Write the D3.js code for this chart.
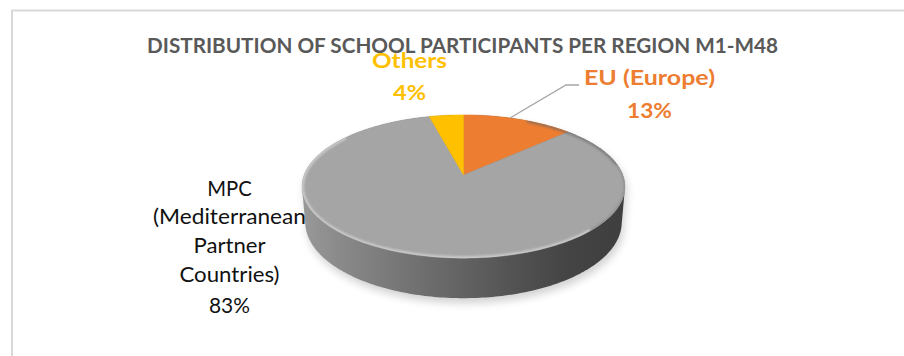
<!DOCTYPE html>
<html>
<head>
<meta charset="utf-8">
<script src="https://cdn.jsdelivr.net/npm/d3@7"></script>
<style>
  html, body { margin: 0; padding: 0; background: #ffffff; }
  svg { display: block; }
</style>
</head>
<body>
<svg id="chart" width="904" height="356"></svg>
<script>
// ---- data ----
const title = "DISTRIBUTION OF SCHOOL PARTICIPANTS PER REGION M1-M48";
const categories = ["EU (Europe)", "MPC (Mediterranean Partner Countries)", "Others"];
const values = [13, 83, 4];
const percentLabels = ["13%", "83%", "4%"];
const labelLines = [["EU (Europe)"], ["MPC", "(Mediterranean", "Partner", "Countries)"], ["Others"]];

// ---- styling ----
const color = d3.scaleOrdinal().domain(categories).range(["#ED7D31", "#A5A5A5", "#FFC000"]);
const svg = d3.select("#chart");
const W = 904, H = 356;

// frame
svg.append("rect").attr("x", 12).attr("y", 10.5).attr("width", 1000).attr("height", 1000)
  .attr("fill", "none").attr("stroke", "#d9d9d9").attr("stroke-width", 2);

// perspective projection for a tilted 3D disc
const cx = 463.5, cy = 175;
const R = 0.179, cosT = 0.899, sinT = Math.sqrt(1 - cosT * cosT), F = 890, depth = 0.045;
function proj(theta, level) {
  const x = R * Math.sin(theta), z = R * Math.cos(theta), y = level;
  const u = x, v = y * cosT + z * sinT, w = 1 + z * cosT - y * sinT;
  return [cx + F * u / w, cy - F * v / w];
}
function arcPoints(a0, a1, level, n) {
  const pts = [];
  const steps = Math.max(2, Math.ceil(Math.abs(a1 - a0) / (2 * Math.PI) * (n || 240)));
  for (let i = 0; i <= steps; i++) pts.push(proj(a0 + (a1 - a0) * i / steps, level));
  return pts;
}

const defs = svg.append("defs");
const sideGrad = defs.append("linearGradient").attr("id", "sideGrad")
  .attr("gradientUnits", "userSpaceOnUse").attr("x1", 300).attr("x2", 627).attr("y1", 0).attr("y2", 0);
[[0, "#9a9a9a"], [0.12, "#8a8a8a"], [0.4, "#6c6c6c"], [0.65, "#535353"], [0.82, "#444444"], [1, "#3e3e3e"]]
  .forEach(([o, c]) => sideGrad.append("stop").attr("offset", o).attr("stop-color", c));
defs.append("filter").attr("id", "blur4").attr("x", "-20%").attr("y", "-20%").attr("width", "140%").attr("height", "140%")
  .append("feGaussianBlur").attr("stdDeviation", 4);
defs.append("filter").attr("id", "blur1").attr("x", "-10%").attr("y", "-10%").attr("width", "120%").attr("height", "120%")
  .append("feGaussianBlur").attr("stdDeviation", 1.2);

const topAll = arcPoints(0, 2 * Math.PI, 0, 360);
const botAll = arcPoints(0, 2 * Math.PI, -depth, 360);
const hull = d3.polygonHull(topAll.concat(botAll));
const line = d3.line().curve(d3.curveLinear);

// soft shadow
svg.append("path").attr("d", line(hull.map(p => [p[0] + 2, p[1] + 5])) + "Z")
  .attr("fill", "#000").attr("opacity", 0.18).attr("filter", "url(#blur4)");

// side wall
svg.append("path").attr("d", line(hull) + "Z").attr("fill", "url(#sideGrad)");

// top face slices
const pie = d3.pie().sort(null).value(d => d.v).startAngle(0).endAngle(2 * Math.PI);
const arcs = pie(categories.map((c, i) => ({ c, v: values[i], i })));
svg.append("g").selectAll("path").data(arcs).join("path")
  .attr("d", d => line([[cx, cy]].concat(arcPoints(d.startAngle, d.endAngle, 0))) + "Z")
  .attr("fill", d => color(d.data.c))
  .attr("stroke", d => color(d.data.c)).attr("stroke-width", 0.5);

// rim highlight (bevel) on front edge
const clip = defs.append("clipPath").attr("id", "topClip");
clip.append("path").attr("d", line(topAll) + "Z");
svg.append("path").attr("d", line(arcPoints(Math.PI * 0.45, Math.PI * 1.7, 0)))
  .attr("fill", "none").attr("stroke", "#d4d4d4").attr("stroke-width", 4).attr("opacity", 0.8)
  .attr("filter", "url(#blur1)").attr("clip-path", "url(#topClip)");
svg.append("path").attr("d", line(arcPoints(Math.PI * 0.15, Math.PI * 0.75, 0)))
  .attr("fill", "none").attr("stroke", "#6a6a6a").attr("stroke-width", 4).attr("opacity", 0.6)
  .attr("filter", "url(#blur1)").attr("clip-path", "url(#topClip)");

// title
const fontFam = "Lato, 'Open Sans', 'DejaVu Sans', sans-serif";
svg.append("text").attr("x", 147).attr("y", 53).attr("font-family", fontFam)
  .attr("font-weight", 700).attr("font-size", 21).attr("fill", "#595959")
  .attr("textLength", 631).attr("lengthAdjust", "spacingAndGlyphs").text(title);

// leader line for EU
svg.append("polyline").attr("points", [proj(arcs[0].startAngle + (arcs[0].endAngle - arcs[0].startAngle) * 0.42, 0), [566, 85], [579, 85]].map(p => p.join(",")).join(" "))
  .attr("fill", "none").attr("stroke", "#a6a6a6").attr("stroke-width", 1.3);

// labels
function label(lines, x, baselines, widths, fill, weight) {
  const g = svg.append("g");
  lines.forEach((t, k) => {
    g.append("text").attr("x", x).attr("y", baselines[k]).attr("text-anchor", "middle")
      .attr("font-family", fontFam).attr("font-weight", weight).attr("font-size", 21).attr("fill", fill)
      .attr("textLength", widths[k]).attr("lengthAdjust", "spacingAndGlyphs").text(t);
  });
}
label(labelLines[0].concat([percentLabels[0]]), 649.5, [85, 118], [131, 45], color(categories[0]), 700);
label(labelLines[2].concat([percentLabels[2]]), 409.5, [68, 100], [75, 33], color(categories[2]), 700);
label(labelLines[1].concat([percentLabels[1]]), 229.5, [195.5, 224, 253, 282, 312.5], [44.5, 153, 72, 100, 41], "#111111", 400);
</script>
</body>
</html>
